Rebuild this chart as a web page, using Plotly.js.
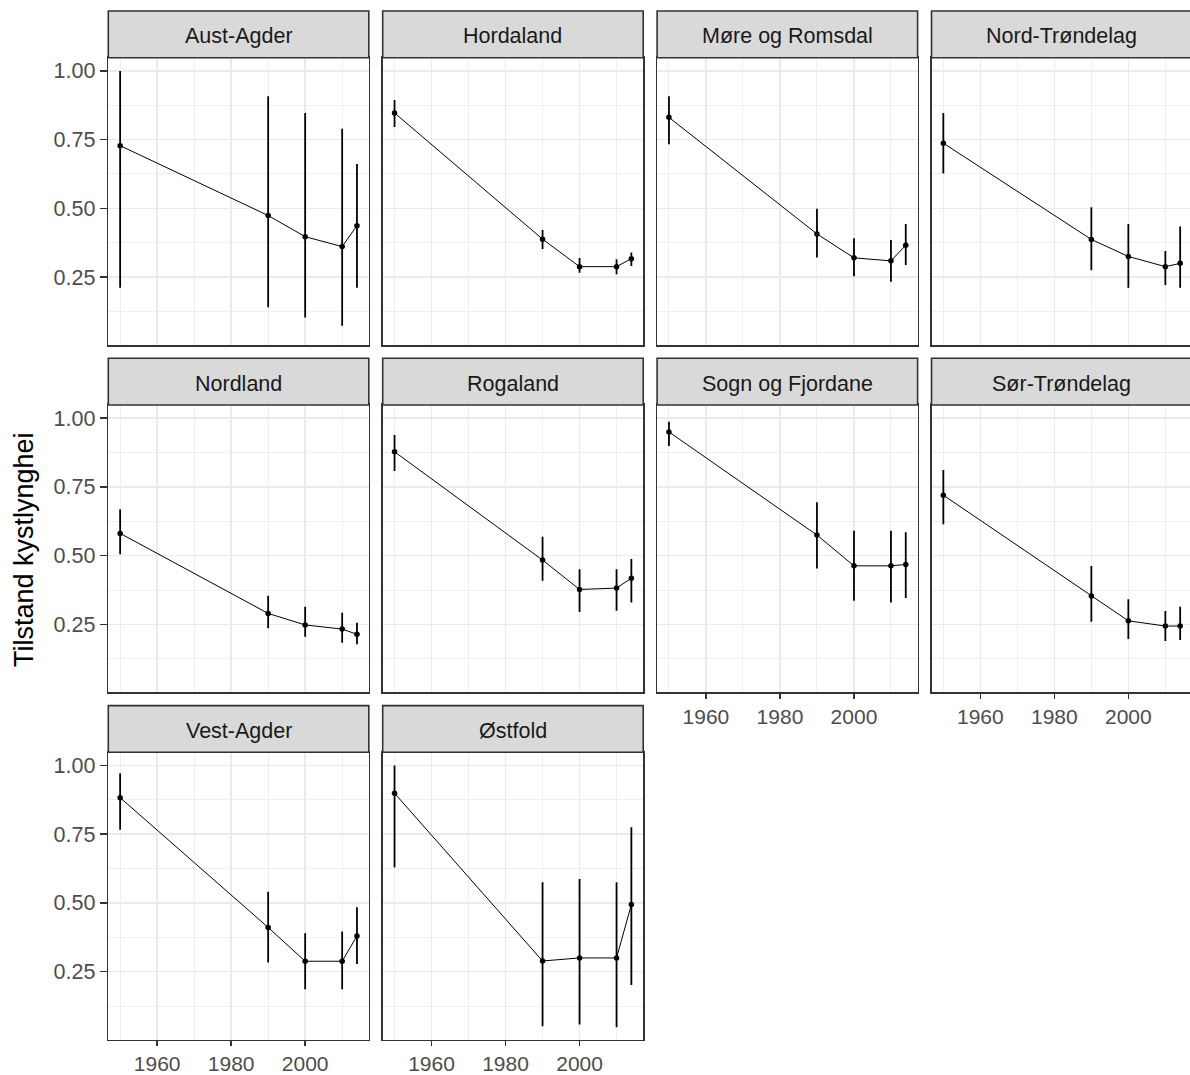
<!DOCTYPE html>
<html>
<head>
<meta charset="utf-8">
<script src="https://cdn.plot.ly/plotly-3.0.1.min.js"></script>
<style>
  html, body { margin: 0; padding: 0; overflow: hidden; background: #ffffff; }
  #chart { width: 1200px; height: 1075px; }
</style>
</head>
<body>
<div id="chart"></div>
<script>
// ---- Data ----
const years = [1950, 1990, 2000, 2010, 2014];
const counties = ["Aust-Agder", "Hordaland", "Møre og Romsdal", "Nord-Trøndelag",
                  "Nordland", "Rogaland", "Sogn og Fjordane", "Sør-Trøndelag",
                  "Vest-Agder", "Østfold"];
const meanValues = [
  [0.728, 0.474, 0.397, 0.361, 0.437],
  [0.847, 0.388, 0.288, 0.288, 0.317],
  [0.831, 0.407, 0.320, 0.309, 0.366],
  [0.737, 0.387, 0.325, 0.288, 0.300],
  [0.581, 0.290, 0.248, 0.233, 0.214],
  [0.878, 0.484, 0.377, 0.382, 0.418],
  [0.950, 0.575, 0.463, 0.463, 0.468],
  [0.720, 0.353, 0.263, 0.244, 0.244],
  [0.883, 0.411, 0.288, 0.288, 0.380],
  [0.899, 0.289, 0.300, 0.300, 0.494]
];
const lowerValues = [
  [0.211, 0.140, 0.103, 0.073, 0.211],
  [0.796, 0.352, 0.266, 0.260, 0.290],
  [0.733, 0.321, 0.253, 0.233, 0.294],
  [0.627, 0.275, 0.211, 0.221, 0.211],
  [0.505, 0.236, 0.205, 0.183, 0.178],
  [0.808, 0.409, 0.295, 0.300, 0.330],
  [0.899, 0.453, 0.336, 0.330, 0.346],
  [0.614, 0.260, 0.197, 0.190, 0.193],
  [0.766, 0.283, 0.186, 0.186, 0.278],
  [0.629, 0.052, 0.058, 0.048, 0.202]
];
const upperValues = [
  [1.000, 0.908, 0.847, 0.790, 0.661],
  [0.894, 0.421, 0.319, 0.315, 0.339],
  [0.908, 0.499, 0.391, 0.385, 0.443],
  [0.847, 0.504, 0.443, 0.345, 0.434],
  [0.669, 0.354, 0.314, 0.292, 0.256],
  [0.939, 0.569, 0.451, 0.451, 0.488],
  [0.987, 0.694, 0.591, 0.591, 0.585],
  [0.812, 0.462, 0.341, 0.299, 0.314],
  [0.972, 0.541, 0.390, 0.396, 0.484],
  [1.000, 0.575, 0.587, 0.575, 0.775]
];
const xTickVals = [1960, 1980, 2000];
const yTickVals = [0.25, 0.50, 0.75, 1.00];
const yTickText = ["0.25", "0.50", "0.75", "1.00"];
const yTitle = "Tilstand kystlynghei";

// ---- Layout geometry (pixels) ----
const W = 1200, H = 1075;
const colLeft = [108.3, 382.7, 657.1, 931.5];
const panelW = 260.5;
const stripTop = [11, 358.3, 705.6];
const stripH = 46.7;
const panelH = 287.3;

const FONT = "Liberation Sans, Arial, sans-serif";
const traces = [];
const layout = {
  width: W, height: H,
  margin: {l: 0, r: 0, t: 0, b: 0},
  paper_bgcolor: "#ffffff",
  plot_bgcolor: "#ffffff",
  showlegend: false,
  font: {family: FONT, size: 21.5, color: "#4D4D4D"},
  shapes: [],
  annotations: []
};

counties.forEach((name, i) => {
  const row = Math.floor(i / 4), col = i % 4;
  const n = i + 1;
  const xa = "xaxis" + (n === 1 ? "" : n);
  const ya = "yaxis" + (n === 1 ? "" : n);
  const xref = "x" + (n === 1 ? "" : n);
  const yref = "y" + (n === 1 ? "" : n);
  const left = colLeft[col], right = left + panelW;
  const sTop = stripTop[row], pTop = sTop + stripH, pBot = pTop + panelH;

  const showX = (row === 2) || (row === 1 && col >= 2);
  const showY = (col === 0);

  layout[xa] = {
    domain: [left / W, right / W],
    anchor: yref,
    range: [1946.8, 2017.2],
    tickmode: "array",
    tickvals: xTickVals,
    showticklabels: showX,
    ticks: showX ? "outside" : "",
    ticklen: 5, tickwidth: 1.5, tickcolor: "#333333",
    tickfont: {family: FONT, size: 21, color: "#4D4D4D"},
    showgrid: true, gridcolor: "#EBEBEB", gridwidth: 1.6,
    minor: {dtick: 10, tick0: 1950, showgrid: true, gridcolor: "#EBEBEB", gridwidth: 0.8, ticks: ""},
    zeroline: false,
    showline: true, mirror: true, linecolor: "#333333", linewidth: 1.6,
    fixedrange: true
  };
  layout[ya] = {
    domain: [1 - pBot / H, 1 - pTop / H],
    anchor: xref,
    range: [0.003, 1.048],
    tickmode: "array",
    tickvals: yTickVals,
    ticktext: yTickText,
    showticklabels: showY,
    ticks: showY ? "outside" : "",
    ticklen: 7, tickwidth: 1.5, tickcolor: "#333333",
    tickfont: {family: FONT, size: 21.5, color: "#4D4D4D"},
    showgrid: true, gridcolor: "#EBEBEB", gridwidth: 1.6,
    minor: {dtick: 0.125, tick0: 0, showgrid: true, gridcolor: "#EBEBEB", gridwidth: 0.8, ticks: ""},
    zeroline: false,
    showline: true, mirror: true, linecolor: "#333333", linewidth: 1.6,
    fixedrange: true
  };

  // strip
  layout.shapes.push({
    type: "rect", xref: "paper", yref: "paper",
    x0: left / W, x1: right / W,
    y0: 1 - (sTop + stripH) / H, y1: 1 - sTop / H,
    fillcolor: "#D9D9D9",
    line: {color: "#333333", width: 1.6},
    layer: "above"
  });
  layout.annotations.push({
    xref: "paper", yref: "paper",
    x: (left + right) / 2 / W, y: 1 - (sTop + stripH / 2) / H,
    xanchor: "center", yanchor: "middle",
    yshift: -2,
    text: name, showarrow: false,
    font: {family: FONT, size: 21.5, color: "#1A1A1A"}
  });

  const m = meanValues[i];
  traces.push({
    type: "scatter", mode: "lines+markers",
    x: years, y: m,
    xaxis: xref, yaxis: yref,
    line: {color: "#000000", width: 1},
    marker: {color: "#000000", size: 5.5},
    error_y: {
      type: "data", symmetric: false,
      array: upperValues[i].map((u, k) => u - m[k]),
      arrayminus: lowerValues[i].map((l, k) => m[k] - l),
      color: "#000000", thickness: 1.8, width: 0
    },
    hoverinfo: "skip"
  });
});

layout.annotations.push({
  xref: "paper", yref: "paper",
  x: 24 / W, y: 1 - 550 / H,
  xanchor: "center", yanchor: "middle",
  text: yTitle, textangle: -90, showarrow: false,
  font: {family: FONT, size: 27, color: "#000000"}
});

Plotly.newPlot("chart", traces, layout, {displayModeBar: false, staticPlot: true});
</script>
</body>
</html>
